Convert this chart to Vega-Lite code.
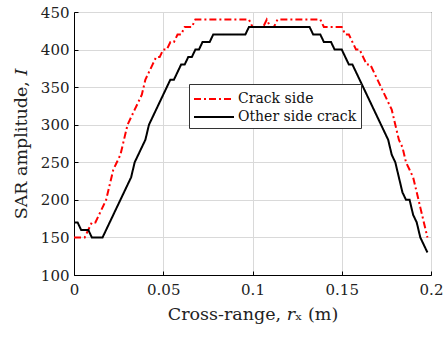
{
  "$schema": "https://vega.github.io/schema/vega-lite/v6.json",
  "width": 357,
  "height": 263,
  "autosize": {"type": "none"},
  "padding": {"left": 74, "top": 12, "right": 13, "bottom": 62},
  "background": "white",
  "config": {
    "view": {"stroke": "black", "strokeWidth": 1},
    "font": "DejaVu Serif",
    "axis": {
      "labelFont": "DejaVu Serif",
      "labelFontSize": 15,
      "labelColor": "#222",
      "titleFont": "DejaVu Serif",
      "titleFontSize": 17.5,
      "titleFontWeight": "normal",
      "titleColor": "#222",
      "domainColor": "black",
      "tickColor": "black",
      "tickSize": -4,
      "gridColor": "#d9d9d9",
      "gridWidth": 1
    },
    "legend": {
      "labelFont": "DejaVu Serif",
      "labelFontSize": 14,
      "labelColor": "#111"
    }
  },
  "data": {
    "values": [
      {"x": 0.000, "y": 150, "s": "Crack side"},
      {"x": 0.002, "y": 150, "s": "Crack side"},
      {"x": 0.004, "y": 150, "s": "Crack side"},
      {"x": 0.006, "y": 150, "s": "Crack side"},
      {"x": 0.008, "y": 160, "s": "Crack side"},
      {"x": 0.010, "y": 170, "s": "Crack side"},
      {"x": 0.012, "y": 170, "s": "Crack side"},
      {"x": 0.014, "y": 180, "s": "Crack side"},
      {"x": 0.016, "y": 190, "s": "Crack side"},
      {"x": 0.018, "y": 200, "s": "Crack side"},
      {"x": 0.020, "y": 220, "s": "Crack side"},
      {"x": 0.022, "y": 240, "s": "Crack side"},
      {"x": 0.024, "y": 250, "s": "Crack side"},
      {"x": 0.026, "y": 260, "s": "Crack side"},
      {"x": 0.028, "y": 280, "s": "Crack side"},
      {"x": 0.030, "y": 300, "s": "Crack side"},
      {"x": 0.032, "y": 310, "s": "Crack side"},
      {"x": 0.034, "y": 320, "s": "Crack side"},
      {"x": 0.036, "y": 330, "s": "Crack side"},
      {"x": 0.038, "y": 340, "s": "Crack side"},
      {"x": 0.040, "y": 360, "s": "Crack side"},
      {"x": 0.042, "y": 370, "s": "Crack side"},
      {"x": 0.044, "y": 380, "s": "Crack side"},
      {"x": 0.046, "y": 390, "s": "Crack side"},
      {"x": 0.048, "y": 390, "s": "Crack side"},
      {"x": 0.050, "y": 400, "s": "Crack side"},
      {"x": 0.052, "y": 400, "s": "Crack side"},
      {"x": 0.054, "y": 410, "s": "Crack side"},
      {"x": 0.056, "y": 410, "s": "Crack side"},
      {"x": 0.058, "y": 420, "s": "Crack side"},
      {"x": 0.060, "y": 420, "s": "Crack side"},
      {"x": 0.062, "y": 430, "s": "Crack side"},
      {"x": 0.064, "y": 430, "s": "Crack side"},
      {"x": 0.066, "y": 430, "s": "Crack side"},
      {"x": 0.068, "y": 440, "s": "Crack side"},
      {"x": 0.070, "y": 440, "s": "Crack side"},
      {"x": 0.080, "y": 440, "s": "Crack side"},
      {"x": 0.090, "y": 440, "s": "Crack side"},
      {"x": 0.098, "y": 440, "s": "Crack side"},
      {"x": 0.100, "y": 430, "s": "Crack side"},
      {"x": 0.102, "y": 430, "s": "Crack side"},
      {"x": 0.104, "y": 430, "s": "Crack side"},
      {"x": 0.106, "y": 430, "s": "Crack side"},
      {"x": 0.108, "y": 440, "s": "Crack side"},
      {"x": 0.110, "y": 430, "s": "Crack side"},
      {"x": 0.112, "y": 430, "s": "Crack side"},
      {"x": 0.114, "y": 440, "s": "Crack side"},
      {"x": 0.116, "y": 440, "s": "Crack side"},
      {"x": 0.126, "y": 440, "s": "Crack side"},
      {"x": 0.138, "y": 440, "s": "Crack side"},
      {"x": 0.140, "y": 430, "s": "Crack side"},
      {"x": 0.150, "y": 430, "s": "Crack side"},
      {"x": 0.152, "y": 420, "s": "Crack side"},
      {"x": 0.154, "y": 420, "s": "Crack side"},
      {"x": 0.156, "y": 410, "s": "Crack side"},
      {"x": 0.158, "y": 400, "s": "Crack side"},
      {"x": 0.160, "y": 400, "s": "Crack side"},
      {"x": 0.162, "y": 390, "s": "Crack side"},
      {"x": 0.164, "y": 380, "s": "Crack side"},
      {"x": 0.166, "y": 380, "s": "Crack side"},
      {"x": 0.168, "y": 370, "s": "Crack side"},
      {"x": 0.170, "y": 360, "s": "Crack side"},
      {"x": 0.172, "y": 350, "s": "Crack side"},
      {"x": 0.174, "y": 340, "s": "Crack side"},
      {"x": 0.176, "y": 330, "s": "Crack side"},
      {"x": 0.178, "y": 320, "s": "Crack side"},
      {"x": 0.180, "y": 300, "s": "Crack side"},
      {"x": 0.182, "y": 280, "s": "Crack side"},
      {"x": 0.184, "y": 270, "s": "Crack side"},
      {"x": 0.186, "y": 250, "s": "Crack side"},
      {"x": 0.188, "y": 240, "s": "Crack side"},
      {"x": 0.190, "y": 230, "s": "Crack side"},
      {"x": 0.192, "y": 210, "s": "Crack side"},
      {"x": 0.194, "y": 190, "s": "Crack side"},
      {"x": 0.196, "y": 170, "s": "Crack side"},
      {"x": 0.198, "y": 150, "s": "Crack side"},

      {"x": 0.000, "y": 170, "s": "Other side crack"},
      {"x": 0.002, "y": 170, "s": "Other side crack"},
      {"x": 0.004, "y": 160, "s": "Other side crack"},
      {"x": 0.006, "y": 160, "s": "Other side crack"},
      {"x": 0.008, "y": 160, "s": "Other side crack"},
      {"x": 0.010, "y": 150, "s": "Other side crack"},
      {"x": 0.012, "y": 150, "s": "Other side crack"},
      {"x": 0.014, "y": 150, "s": "Other side crack"},
      {"x": 0.016, "y": 150, "s": "Other side crack"},
      {"x": 0.018, "y": 160, "s": "Other side crack"},
      {"x": 0.020, "y": 170, "s": "Other side crack"},
      {"x": 0.022, "y": 180, "s": "Other side crack"},
      {"x": 0.024, "y": 190, "s": "Other side crack"},
      {"x": 0.026, "y": 200, "s": "Other side crack"},
      {"x": 0.028, "y": 210, "s": "Other side crack"},
      {"x": 0.030, "y": 220, "s": "Other side crack"},
      {"x": 0.032, "y": 230, "s": "Other side crack"},
      {"x": 0.034, "y": 250, "s": "Other side crack"},
      {"x": 0.036, "y": 260, "s": "Other side crack"},
      {"x": 0.038, "y": 270, "s": "Other side crack"},
      {"x": 0.040, "y": 280, "s": "Other side crack"},
      {"x": 0.042, "y": 300, "s": "Other side crack"},
      {"x": 0.044, "y": 310, "s": "Other side crack"},
      {"x": 0.046, "y": 320, "s": "Other side crack"},
      {"x": 0.048, "y": 330, "s": "Other side crack"},
      {"x": 0.050, "y": 340, "s": "Other side crack"},
      {"x": 0.052, "y": 350, "s": "Other side crack"},
      {"x": 0.054, "y": 360, "s": "Other side crack"},
      {"x": 0.056, "y": 360, "s": "Other side crack"},
      {"x": 0.058, "y": 370, "s": "Other side crack"},
      {"x": 0.060, "y": 380, "s": "Other side crack"},
      {"x": 0.062, "y": 380, "s": "Other side crack"},
      {"x": 0.064, "y": 390, "s": "Other side crack"},
      {"x": 0.066, "y": 390, "s": "Other side crack"},
      {"x": 0.068, "y": 400, "s": "Other side crack"},
      {"x": 0.070, "y": 400, "s": "Other side crack"},
      {"x": 0.072, "y": 410, "s": "Other side crack"},
      {"x": 0.074, "y": 410, "s": "Other side crack"},
      {"x": 0.076, "y": 410, "s": "Other side crack"},
      {"x": 0.078, "y": 420, "s": "Other side crack"},
      {"x": 0.088, "y": 420, "s": "Other side crack"},
      {"x": 0.096, "y": 420, "s": "Other side crack"},
      {"x": 0.098, "y": 430, "s": "Other side crack"},
      {"x": 0.110, "y": 430, "s": "Other side crack"},
      {"x": 0.120, "y": 430, "s": "Other side crack"},
      {"x": 0.132, "y": 430, "s": "Other side crack"},
      {"x": 0.134, "y": 420, "s": "Other side crack"},
      {"x": 0.136, "y": 420, "s": "Other side crack"},
      {"x": 0.138, "y": 420, "s": "Other side crack"},
      {"x": 0.140, "y": 410, "s": "Other side crack"},
      {"x": 0.142, "y": 410, "s": "Other side crack"},
      {"x": 0.144, "y": 410, "s": "Other side crack"},
      {"x": 0.146, "y": 400, "s": "Other side crack"},
      {"x": 0.148, "y": 400, "s": "Other side crack"},
      {"x": 0.150, "y": 400, "s": "Other side crack"},
      {"x": 0.152, "y": 390, "s": "Other side crack"},
      {"x": 0.154, "y": 380, "s": "Other side crack"},
      {"x": 0.156, "y": 380, "s": "Other side crack"},
      {"x": 0.158, "y": 370, "s": "Other side crack"},
      {"x": 0.160, "y": 360, "s": "Other side crack"},
      {"x": 0.162, "y": 350, "s": "Other side crack"},
      {"x": 0.164, "y": 340, "s": "Other side crack"},
      {"x": 0.166, "y": 330, "s": "Other side crack"},
      {"x": 0.168, "y": 320, "s": "Other side crack"},
      {"x": 0.170, "y": 310, "s": "Other side crack"},
      {"x": 0.172, "y": 300, "s": "Other side crack"},
      {"x": 0.174, "y": 290, "s": "Other side crack"},
      {"x": 0.176, "y": 280, "s": "Other side crack"},
      {"x": 0.178, "y": 260, "s": "Other side crack"},
      {"x": 0.180, "y": 250, "s": "Other side crack"},
      {"x": 0.182, "y": 230, "s": "Other side crack"},
      {"x": 0.184, "y": 210, "s": "Other side crack"},
      {"x": 0.186, "y": 200, "s": "Other side crack"},
      {"x": 0.188, "y": 200, "s": "Other side crack"},
      {"x": 0.190, "y": 180, "s": "Other side crack"},
      {"x": 0.192, "y": 170, "s": "Other side crack"},
      {"x": 0.194, "y": 150, "s": "Other side crack"},
      {"x": 0.196, "y": 140, "s": "Other side crack"},
      {"x": 0.198, "y": 130, "s": "Other side crack"}
    ]
  },
  "mark": {"type": "line", "strokeWidth": 2, "clip": true},
  "encoding": {
    "x": {
      "field": "x",
      "type": "quantitative",
      "scale": {"domain": [0, 0.2], "nice": false, "zero": false},
      "axis": {
        "values": [0, 0.05, 0.1, 0.15, 0.2],
        "format": "~g",
        "title": "Cross-range,  𝑟ₓ (m)",
        "labelPadding": 11,
        "titlePadding": 8,
        "labelFlush": false
      }
    },
    "y": {
      "field": "y",
      "type": "quantitative",
      "scale": {"domain": [100, 450], "nice": false, "zero": false},
      "axis": {
        "values": [100, 150, 200, 250, 300, 350, 400, 450],
        "title": "SAR amplitude,  𝐼",
        "labelPadding": 9,
        "titlePadding": 10,
        "labelFlush": false
      }
    },
    "color": {
      "field": "s",
      "type": "nominal",
      "scale": {"domain": ["Crack side", "Other side crack"], "range": ["#ff0000", "#000000"]},
      "legend": {
        "title": null,
        "orient": "none",
        "legendX": 115,
        "legendY": 72,
        "symbolType": "M-2,0H2",
        "symbolSize": 400,
        "symbolStrokeWidth": 2,
        "symbolOffset": 10,
        "labelOffset": 13,
        "strokeColor": "#333",
        "fillColor": "white",
        "padding": 4,
        "rowPadding": -1
      }
    },
    "strokeDash": {
      "field": "s",
      "type": "nominal",
      "scale": {"domain": ["Crack side", "Other side crack"], "range": [[7, 3, 2, 3], [1, 0]]},
      "legend": null
    }
  }
}
